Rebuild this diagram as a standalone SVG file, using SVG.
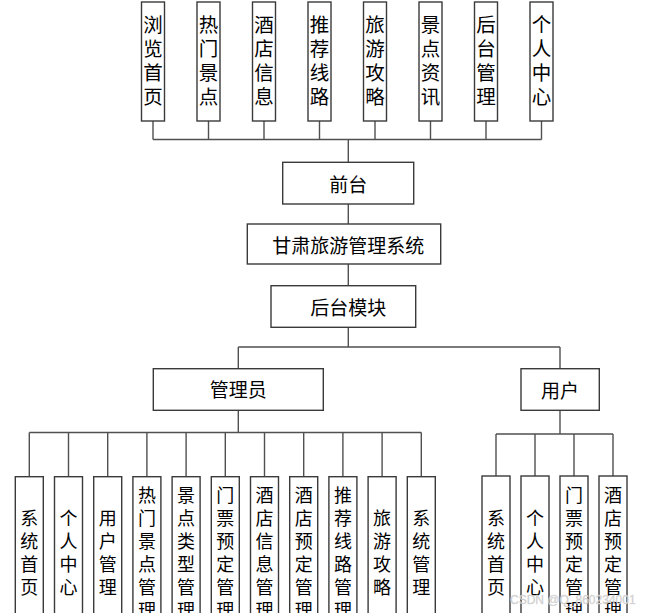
<svg xmlns="http://www.w3.org/2000/svg" width="650" height="613" viewBox="0 0 650 613">
<style>
  .box { fill: #ffffff; stroke: #3a3a3a; stroke-width: 1.4; }
  .ln { fill: none; stroke: #505050; stroke-width: 1.4; }
  text { font-family: "Noto Sans CJK SC", "Noto Sans", sans-serif; fill: #000; text-anchor: middle; dominant-baseline: central; }
  .t1 { font-size: 19.5px; }
  .t2 { font-size: 19px; }
  .t3 { font-size: 18px; }
  .wm { font-family: "Liberation Sans", sans-serif; font-size: 12px; fill: #c4c4c4; stroke: #e0e0e0; stroke-width: 0.3; text-anchor: start; }
</style>
<rect width="650" height="613" fill="#ffffff"/>
<g id="connectors">
  <path class="ln" d="M153,121V139.5M208.5,121V139.5M264,121V139.5M319.5,121V139.5M375,121V139.5M430.5,121V139.5M486,121V139.5M541.5,121V139.5M153,139.5H541.5M348.3,139.5V162.3"/>
  <path class="ln" d="M348.3,204V224M348.3,264V285.7M348.3,327.3V347"/>
  <path class="ln" d="M238.3,347H560M238.3,347V368.7M560,347V368.7"/>
  <path class="ln" d="M238.3,410.3V432.5M29.3,432.5H421.3M29.3,432.5V476.7M68.5,432.5V476.7M107.7,432.5V476.7M146.9,432.5V476.7M186.1,432.5V476.7M225.3,432.5V476.7M264.5,432.5V476.7M303.7,432.5V476.7M342.9,432.5V476.7M382.1,432.5V476.7M421.3,432.5V476.7"/>
  <path class="ln" d="M560,410.3V434M496,434H613M496,434V476M535,434V476M574,434V476M613,434V476"/>
</g>
<g id="top-1"><rect class="box" x="141.5" y="2" width="23" height="119"/><text class="t1"><tspan x="153" y="22.5">浏</tspan><tspan x="153" y="46.7">览</tspan><tspan x="153" y="70.9">首</tspan><tspan x="153" y="95">页</tspan></text></g>
<g id="top-2"><rect class="box" x="197" y="2" width="23" height="119"/><text class="t1"><tspan x="208.5" y="22.5">热</tspan><tspan x="208.5" y="46.7">门</tspan><tspan x="208.5" y="70.9">景</tspan><tspan x="208.5" y="95">点</tspan></text></g>
<g id="top-3"><rect class="box" x="252.5" y="2" width="23" height="119"/><text class="t1"><tspan x="264" y="22.5">酒</tspan><tspan x="264" y="46.7">店</tspan><tspan x="264" y="70.9">信</tspan><tspan x="264" y="95">息</tspan></text></g>
<g id="top-4"><rect class="box" x="308" y="2" width="23" height="119"/><text class="t1"><tspan x="319.5" y="22.5">推</tspan><tspan x="319.5" y="46.7">荐</tspan><tspan x="319.5" y="70.9">线</tspan><tspan x="319.5" y="95">路</tspan></text></g>
<g id="top-5"><rect class="box" x="363.5" y="2" width="23" height="119"/><text class="t1"><tspan x="375" y="22.5">旅</tspan><tspan x="375" y="46.7">游</tspan><tspan x="375" y="70.9">攻</tspan><tspan x="375" y="95">略</tspan></text></g>
<g id="top-6"><rect class="box" x="419" y="2" width="23" height="119"/><text class="t1"><tspan x="430.5" y="22.5">景</tspan><tspan x="430.5" y="46.7">点</tspan><tspan x="430.5" y="70.9">资</tspan><tspan x="430.5" y="95">讯</tspan></text></g>
<g id="top-7"><rect class="box" x="474.5" y="2" width="23" height="119"/><text class="t1"><tspan x="486" y="22.5">后</tspan><tspan x="486" y="46.7">台</tspan><tspan x="486" y="70.9">管</tspan><tspan x="486" y="95">理</tspan></text></g>
<g id="top-8"><rect class="box" x="530" y="2" width="23" height="119"/><text class="t1"><tspan x="541.5" y="22.5">个</tspan><tspan x="541.5" y="46.7">人</tspan><tspan x="541.5" y="70.9">中</tspan><tspan x="541.5" y="95">心</tspan></text></g>
<g id="qiantai"><rect class="box" x="282.7" y="162.3" width="131" height="41.7"/><text class="t2" x="348.3" y="183">前台</text></g>
<g id="system"><rect class="box" x="247.3" y="224" width="193.4" height="40"/><text class="t2" x="348.3" y="244">甘肃旅游管理系统</text></g>
<g id="houtai"><rect class="box" x="271" y="285.7" width="144.7" height="41.6"/><text class="t2" x="348.3" y="306.5">后台模块</text></g>
<g id="admin"><rect class="box" x="153.3" y="368.7" width="170" height="41.6"/><text class="t2" x="238.3" y="388.5">管理员</text></g>
<g id="user"><rect class="box" x="521" y="368.7" width="78.3" height="41.6"/><text class="t2" x="560" y="389">用户</text></g>
<g id="a1"><rect class="box" x="15.3" y="476.7" width="28" height="150"/><text class="t3"><tspan x="29.3" y="517">系</tspan><tspan x="29.3" y="540">统</tspan><tspan x="29.3" y="563">首</tspan><tspan x="29.3" y="586">页</tspan></text></g>
<g id="a2"><rect class="box" x="54.5" y="476.7" width="28" height="150"/><text class="t3"><tspan x="68.5" y="517">个</tspan><tspan x="68.5" y="540">人</tspan><tspan x="68.5" y="563">中</tspan><tspan x="68.5" y="586">心</tspan></text></g>
<g id="a3"><rect class="box" x="93.7" y="476.7" width="28" height="150"/><text class="t3"><tspan x="107.7" y="517">用</tspan><tspan x="107.7" y="540">户</tspan><tspan x="107.7" y="563">管</tspan><tspan x="107.7" y="586">理</tspan></text></g>
<g id="a4"><rect class="box" x="132.9" y="476.7" width="28" height="150"/><text class="t3"><tspan x="146.9" y="494">热</tspan><tspan x="146.9" y="517">门</tspan><tspan x="146.9" y="540">景</tspan><tspan x="146.9" y="563">点</tspan><tspan x="146.9" y="586">管</tspan><tspan x="146.9" y="609">理</tspan></text></g>
<g id="a5"><rect class="box" x="172.1" y="476.7" width="28" height="150"/><text class="t3"><tspan x="186.1" y="494">景</tspan><tspan x="186.1" y="517">点</tspan><tspan x="186.1" y="540">类</tspan><tspan x="186.1" y="563">型</tspan><tspan x="186.1" y="586">管</tspan><tspan x="186.1" y="609">理</tspan></text></g>
<g id="a6"><rect class="box" x="211.3" y="476.7" width="28" height="150"/><text class="t3"><tspan x="225.3" y="494">门</tspan><tspan x="225.3" y="517">票</tspan><tspan x="225.3" y="540">预</tspan><tspan x="225.3" y="563">定</tspan><tspan x="225.3" y="586">管</tspan><tspan x="225.3" y="609">理</tspan></text></g>
<g id="a7"><rect class="box" x="250.5" y="476.7" width="28" height="150"/><text class="t3"><tspan x="264.5" y="494">酒</tspan><tspan x="264.5" y="517">店</tspan><tspan x="264.5" y="540">信</tspan><tspan x="264.5" y="563">息</tspan><tspan x="264.5" y="586">管</tspan><tspan x="264.5" y="609">理</tspan></text></g>
<g id="a8"><rect class="box" x="289.7" y="476.7" width="28" height="150"/><text class="t3"><tspan x="303.7" y="494">酒</tspan><tspan x="303.7" y="517">店</tspan><tspan x="303.7" y="540">预</tspan><tspan x="303.7" y="563">定</tspan><tspan x="303.7" y="586">管</tspan><tspan x="303.7" y="609">理</tspan></text></g>
<g id="a9"><rect class="box" x="328.9" y="476.7" width="28" height="150"/><text class="t3"><tspan x="342.9" y="494">推</tspan><tspan x="342.9" y="517">荐</tspan><tspan x="342.9" y="540">线</tspan><tspan x="342.9" y="563">路</tspan><tspan x="342.9" y="586">管</tspan><tspan x="342.9" y="609">理</tspan></text></g>
<g id="a10"><rect class="box" x="368.1" y="476.7" width="28" height="150"/><text class="t3"><tspan x="382.1" y="517">旅</tspan><tspan x="382.1" y="540">游</tspan><tspan x="382.1" y="563">攻</tspan><tspan x="382.1" y="586">略</tspan></text></g>
<g id="a11"><rect class="box" x="407.3" y="476.7" width="28" height="150"/><text class="t3"><tspan x="421.3" y="517">系</tspan><tspan x="421.3" y="540">统</tspan><tspan x="421.3" y="563">管</tspan><tspan x="421.3" y="586">理</tspan></text></g>
<g id="u1"><rect class="box" x="482" y="476" width="28" height="150"/><text class="t3"><tspan x="496" y="517">系</tspan><tspan x="496" y="540">统</tspan><tspan x="496" y="563">首</tspan><tspan x="496" y="586">页</tspan></text></g>
<g id="u2"><rect class="box" x="521" y="476" width="28" height="150"/><text class="t3"><tspan x="535" y="517">个</tspan><tspan x="535" y="540">人</tspan><tspan x="535" y="563">中</tspan><tspan x="535" y="586">心</tspan></text></g>
<g id="u3"><rect class="box" x="560" y="476" width="28" height="150"/><text class="t3"><tspan x="574" y="494">门</tspan><tspan x="574" y="517">票</tspan><tspan x="574" y="540">预</tspan><tspan x="574" y="563">定</tspan><tspan x="574" y="586">管</tspan><tspan x="574" y="609">理</tspan></text></g>
<g id="u4"><rect class="box" x="599" y="476" width="28" height="150"/><text class="t3"><tspan x="613" y="494">酒</tspan><tspan x="613" y="517">店</tspan><tspan x="613" y="540">预</tspan><tspan x="613" y="563">定</tspan><tspan x="613" y="586">管</tspan><tspan x="613" y="609">理</tspan></text></g>
<text class="wm" x="510" y="600">CSDN @Q_860234001</text>
</svg>
